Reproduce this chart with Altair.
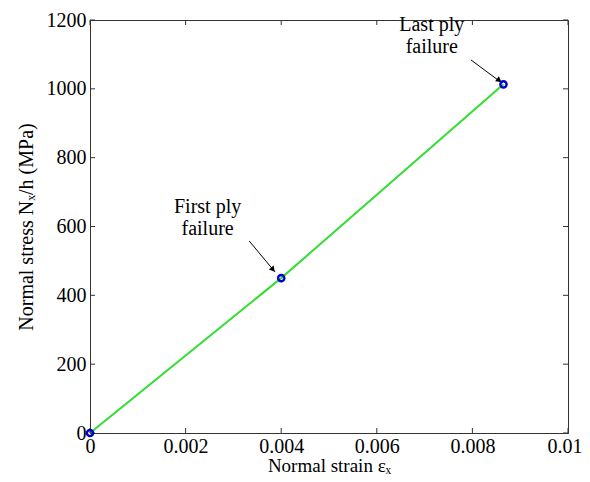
import altair as alt
import pandas as pd

# data
strain = [0.0, 0.004, 0.00865]
stress = [0.0, 450.0, 1013.0]
x_ticks = [0, 0.002, 0.004, 0.006, 0.008, 0.01]
y_ticks = [0, 200, 400, 600, 800, 1000, 1200]

labels = ["First ply\nfailure", "Last ply\nfailure"]
label_x = [0.00246, 0.00715]
label_y = [657, 1185]
arrow_x0 = [0.00333, 0.00797]
arrow_y0 = [558, 1084]
arrow_x1 = [0.00387, 0.00858]
arrow_y1 = [468, 1021]
head_x = [0.003816, 0.008545]
head_y = [477, 1026]
arrow_angle = [140, 126]

W, H = 478, 413
FONT = "Liberation Serif"

df = pd.DataFrame({"x": strain, "y": stress})
xs = alt.Scale(domain=[0, 0.01], nice=False)
ys = alt.Scale(domain=[0, 1200], nice=False)

xaxis = alt.Axis(
    values=x_ticks, format="~g", titlePadding=0, labelPadding=3, titleFontSize=19,
    labelAlign={"condition": {"test": "datum.value >= 0.0099", "value": "right"}, "value": "center"},
    labelOffset={"condition": {"test": "datum.value >= 0.0099", "value": 14}, "value": 0},
)
yaxis = alt.Axis(values=y_ticks, format="d", titlePadding=10, labelPadding=4)
XT = "Normal strain εₓ"
YT = "Normal stress Nₓ/h (MPa)"


def X(f):
    return alt.X(f, scale=xs, axis=xaxis, title=XT)


def Y(f):
    return alt.Y(f, scale=ys, axis=yaxis, title=YT)


line = alt.Chart(df).mark_line(color="#33dd33", strokeWidth=2).encode(x=X("x:Q"), y=Y("y:Q"))
pts = alt.Chart(df).mark_point(shape="circle", color="#0000cc", filled=False,
                               strokeWidth=2.5, size=38, opacity=1).encode(
    x=X("x:Q"), y=Y("y:Q"))

xt = pd.DataFrame({"x": x_ticks})
yt = pd.DataFrame({"y": y_ticks})
tb = alt.Chart(xt).mark_rule(color="#333333").encode(
    x=X("x:Q"), y=alt.value(H), y2=alt.value(H - 5))
tt = alt.Chart(xt).mark_rule(color="#333333").encode(
    x=X("x:Q"), y=alt.value(0), y2=alt.value(5))
tl = alt.Chart(yt).mark_rule(color="#333333").encode(
    y=Y("y:Q"), x=alt.value(0), x2=alt.value(5))
tr = alt.Chart(yt).mark_rule(color="#333333").encode(
    y=Y("y:Q"), x=alt.value(W), x2=alt.value(W - 5))

ann = pd.DataFrame({"t": labels, "x": label_x, "y": label_y,
                    "x0": arrow_x0, "y0": arrow_y0, "x1": arrow_x1, "y1": arrow_y1,
                    "hx": head_x, "hy": head_y, "a": arrow_angle})
txt = alt.Chart(ann).mark_text(font=FONT, fontSize=20, lineBreak="\n", align="center",
                               baseline="middle", color="black", lineHeight=22).encode(
    x=X("x:Q"), y=Y("y:Q"), text="t:N")
arr = alt.Chart(ann).mark_rule(color="black", strokeWidth=1).encode(
    x=X("x0:Q"), y=Y("y0:Q"), x2="x1:Q", y2="y1:Q")
head = alt.Chart(ann).mark_point(shape="triangle", filled=True, color="black",
                                 size=40, opacity=1).encode(
    x=X("hx:Q"), y=Y("hy:Q"), angle=alt.Angle("a:Q", scale=None))

chart = alt.layer(line, arr, head, tb, tt, tl, tr, pts, txt).properties(
    width=W, height=H,
    autosize=alt.AutoSizeParams(type="none"),
    padding={"left": 82, "top": 12, "right": 14, "bottom": 41},
    background="white",
).configure_view(stroke="#333333", strokeWidth=1).configure_axis(
    ticks=False, grid=False, labelFont=FONT, labelFontSize=20, labelColor="black",
    titleFont=FONT, titleFontSize=20, titleFontWeight="normal", titleColor="black",
    domainColor="#333333", labelFlush=False, labelOverlap=False)

chart.save("out.html", embed_options={"renderer": "svg", "actions": False})
